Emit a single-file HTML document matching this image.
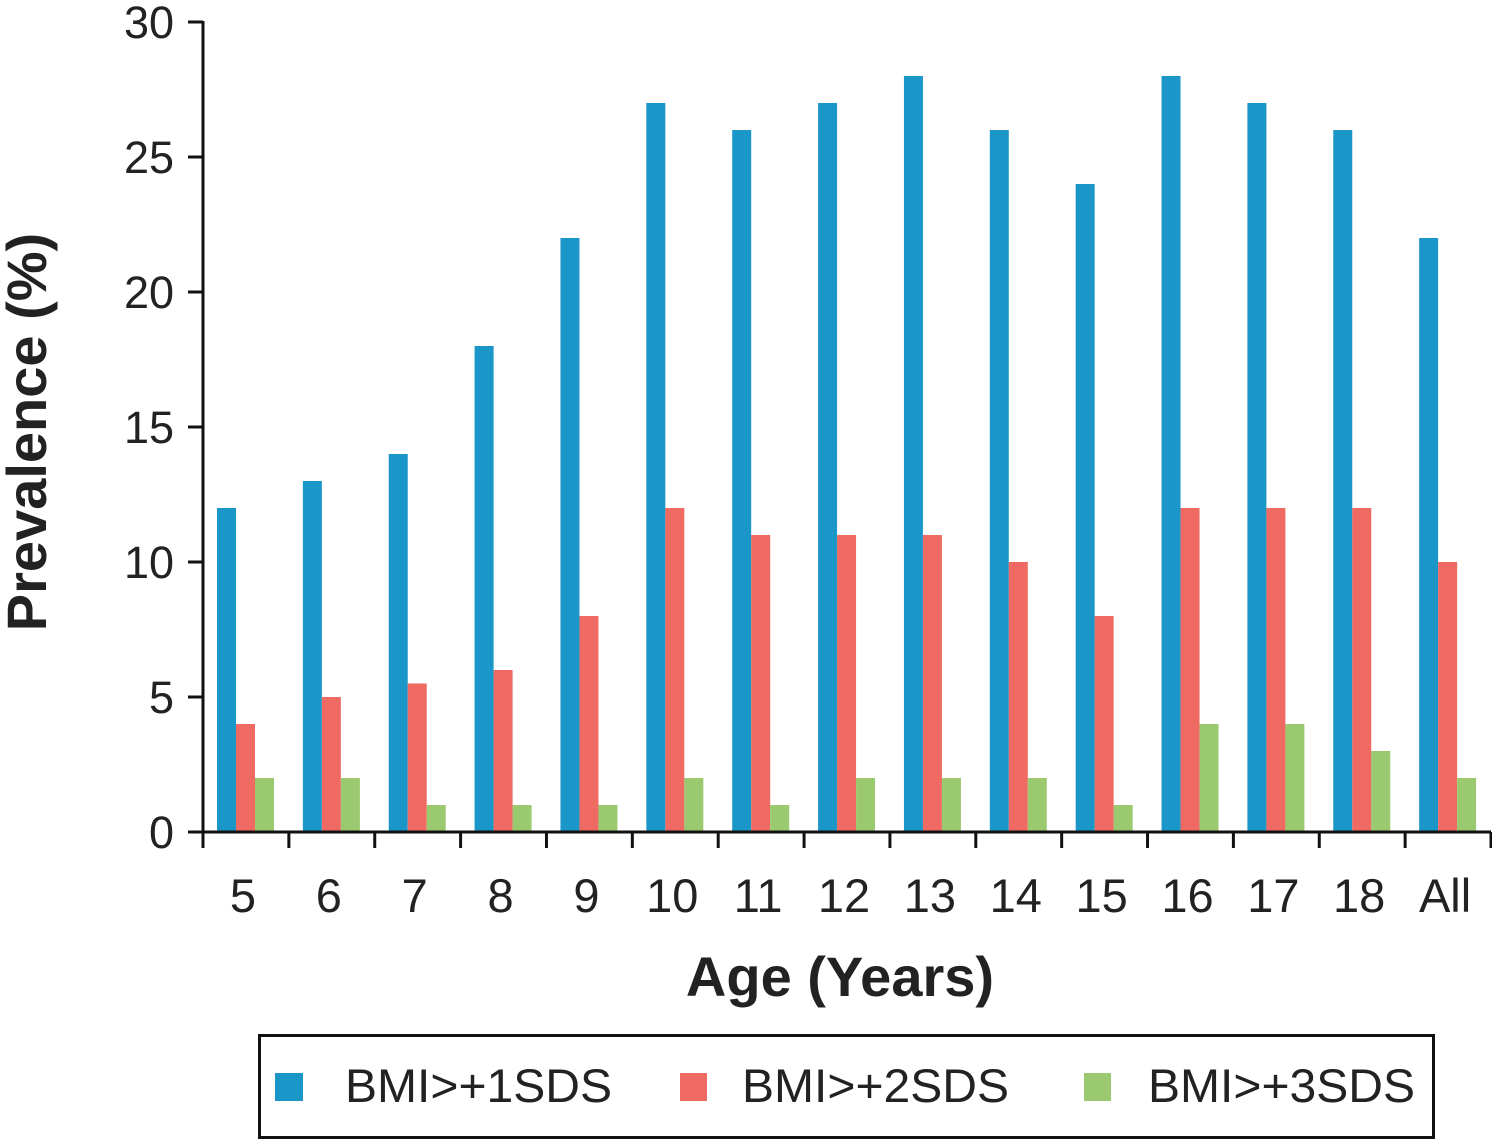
<!DOCTYPE html>
<html><head><meta charset="utf-8"><style>
html,body{margin:0;padding:0;background:#fff;}
svg{display:block;font-family:"Liberation Sans",Arial,sans-serif;}
</style></head><body>
<svg id="chart" width="1492" height="1140">
<g id="bars"></g>
<g id="axes"></g>
<text x="0" y="0" transform="translate(46,432) rotate(-90)" text-anchor="middle" font-size="56" font-weight="bold" fill="#222">Prevalence (%)</text>
<text x="840" y="996" text-anchor="middle" font-size="56" font-weight="bold" fill="#222">Age (Years)</text>
<g>
<rect x="259.5" y="1035.5" width="1174" height="102" fill="#fff" stroke="#111" stroke-width="3"/>
<rect x="275" y="1073" width="28" height="28" fill="#1a96c8"/>
<text x="345" y="1102" font-size="47" textLength="267" lengthAdjust="spacingAndGlyphs" fill="#222">BMI&gt;+1SDS</text>
<rect x="680" y="1073" width="27" height="28" fill="#ee6a62"/>
<text x="742" y="1102" font-size="47" textLength="267" lengthAdjust="spacingAndGlyphs" fill="#222">BMI&gt;+2SDS</text>
<rect x="1084" y="1073" width="27" height="28" fill="#9ac96f"/>
<text x="1148" y="1102" font-size="47" textLength="267" lengthAdjust="spacingAndGlyphs" fill="#222">BMI&gt;+3SDS</text>
</g>
</svg>
<script>
const categories=["5","6","7","8","9","10","11","12","13","14","15","16","17","18","All"];
const sds1=[12,13,14,18,22,27,26,27,28,26,24,28,27,26,22];
const sds2=[4,5,5.5,6,8,12,11,11,11,10,8,12,12,12,10];
const sds3=[2,2,1,1,1,2,1,2,2,2,1,4,4,3,2];
const yTicks=[0,5,10,15,20,25,30];
const NS="http://www.w3.org/2000/svg";
const x0=203,x1=1491,y0=832,yTop=22,yMax=30;
const gw=(x1-x0)/categories.length;
const yS=v=>y0-(v/yMax)*(y0-yTop);
const xS=i=>x0+i*gw;
const bars=document.getElementById('bars'),axes=document.getElementById('axes');
function mk(tag,attrs,parent){const e=document.createElementNS(NS,tag);for(const k in attrs)e.setAttribute(k,attrs[k]);parent.appendChild(e);return e;}
const series=[[sds1,"#1a96c8","1sds"],[sds2,"#ee6a62","2sds"],[sds3,"#9ac96f","3sds"]];
const bw=19;
categories.forEach((c,i)=>{
  series.forEach((s,j)=>{
    const v=s[0][i];
    const r=mk('rect',{x:xS(i)+14+j*bw,y:yS(v),width:bw,height:y0-yS(v),fill:s[1]},bars);
    
    
  });
  const t=mk('text',{x:xS(i)+gw/2-3,y:912,'text-anchor':'middle','font-size':47,fill:'#222'},axes);
  t.textContent=c;
  
  
});
for(let i=0;i<=categories.length;i++){
  const l=mk('line',{x1:xS(i),x2:xS(i),y1:y0,y2:848,stroke:'#111','stroke-width':3},axes);
  
  
}
yTicks.forEach(v=>{
  const l=mk('line',{x1:188,x2:x0,y1:yS(v),y2:yS(v),stroke:'#111','stroke-width':3},axes);
  
  
  const t=mk('text',{x:174,y:yS(v)+16,'text-anchor':'end','font-size':45,fill:'#222'},axes);
  t.textContent=v;
  
  
});
const ya=mk('line',{x1:x0,x2:x0,y1:yTop-1,y2:y0+1.5,stroke:'#111','stroke-width':3},axes);


const xa=mk('line',{x1:x0-1.5,x2:x1,y1:y0,y2:y0,stroke:'#111','stroke-width':3},axes);


</script>
</body></html>
